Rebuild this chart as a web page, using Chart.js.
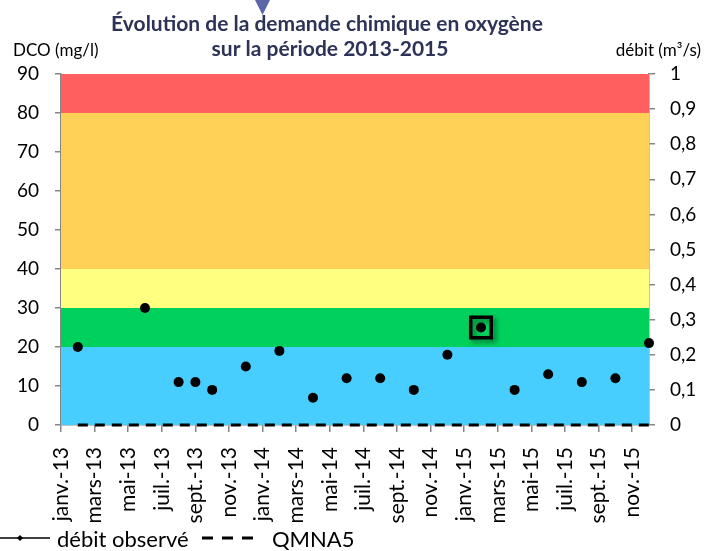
<!DOCTYPE html>
<html>
<head>
<meta charset="utf-8">
<script src="https://cdn.jsdelivr.net/npm/chart.js@4/dist/chart.umd.min.js"></script>
<style>
  html, body { margin: 0; padding: 0; background: #fff; }
  canvas { display: block; }
</style>
</head>
<body>
<canvas id="dcoChart" width="707" height="551"></canvas>
<script>
  // tick labels for the month axis (every second month, jan 2013 = 0)
  var tickLabels = ['janv.-13', 'mars-13', 'mai-13', 'juil.-13', 'sept.-13', 'nov.-13',
    'janv.-14', 'mars-14', 'mai-14', 'juil.-14', 'sept.-14', 'nov.-14',
    'janv.-15', 'mars-15', 'mai-15', 'juil.-15', 'sept.-15', 'nov.-15'];

  // sampling month (0 = janv. 2013) and DCO values in mg/l
  var sampleMonths = [1, 5, 7, 8, 9, 11, 13, 15, 17, 19, 21, 23, 25, 27, 29, 31, 33, 35];
  var dcoValues = [20, 30, 11, 11, 9, 15, 19, 7, 12, 12, 9, 18, 25, 9, 13, 11, 12, 21];

  // highlighted sample (index in the arrays above)
  var highlightIndex = 12;

  // débit : QMNA5 reference and observed flow (m3/s)
  var qmna5Value = 0;
  var debitObserve = [];

  // quality classes of DCO (mg/l)
  var classLimits = [0, 20, 30, 40, 80, 90];
  var classColors = ['#47CEFF', '#00D15D', '#FFFF80', '#FFD257', '#FF5F5F'];

  var FONT = 'Lato, "Open Sans", sans-serif';
  var TEXT = '#000000';
  var AXIS = '#868686';

  var dcoPoints = sampleMonths.map(function (m, i) { return { x: m, y: dcoValues[i] }; });
  var qmnaPoints = sampleMonths.map(function (m) { return { x: m, y: qmna5Value }; });

  var bandsPlugin = {
    id: 'bands',
    beforeDatasetsDraw: function (chart) {
      var ctx = chart.ctx, area = chart.chartArea, y = chart.scales.y;
      ctx.save();
      for (var i = 0; i < classColors.length; i++) {
        var top = y.getPixelForValue(classLimits[i + 1]);
        var bottom = y.getPixelForValue(classLimits[i]);
        ctx.fillStyle = classColors[i];
        ctx.fillRect(area.left, top, area.right - area.left, bottom - top);
      }
      ctx.restore();
    }
  };

  var shadowPlugin = {
    id: 'markShadow',
    beforeDatasetDraw: function (chart, args) {
      if (args.index !== 2) return;
      var ctx = chart.ctx;
      ctx.save();
      ctx.shadowColor = 'rgba(0,0,0,0.45)';
      ctx.shadowBlur = 5;
      ctx.shadowOffsetX = 3;
      ctx.shadowOffsetY = 3;
    },
    afterDatasetDraw: function (chart, args) {
      if (args.index !== 2) return;
      chart.ctx.restore();
    }
  };

  var textPlugin = {
    id: 'texts',
    afterDraw: function (chart) {
      var ctx = chart.ctx;
      ctx.save();

      // little marker above the title
      ctx.fillStyle = '#5A66A8';
      ctx.beginPath();
      ctx.moveTo(255, 0);
      ctx.lineTo(270, 0);
      ctx.lineTo(262.5, 15);
      ctx.closePath();
      ctx.fill();

      // title
      ctx.fillStyle = '#2D3357';
      ctx.font = 'bold 21px ' + FONT;
      ctx.textAlign = 'center';
      ctx.textBaseline = 'alphabetic';
      ctx.fillText('Évolution de la demande chimique en oxygène', 327, 31);
      ctx.fillText('sur la période 2013-2015', 330, 56);

      // axis titles
      ctx.fillStyle = TEXT;
      ctx.font = '17px ' + FONT;
      ctx.textAlign = 'left';
      ctx.fillText('DCO (mg/l)', 13, 56);
      ctx.textAlign = 'right';
      ctx.fillText('débit (m³/s)', 701, 56);

      // legend
      var ly = 538;
      ctx.strokeStyle = '#000';
      ctx.lineWidth = 1.5;
      ctx.setLineDash([]);
      ctx.beginPath();
      ctx.moveTo(0, ly);
      ctx.lineTo(50, ly);
      ctx.stroke();
      ctx.fillStyle = '#000';
      ctx.beginPath();
      ctx.moveTo(20, ly - 3);
      ctx.lineTo(23, ly);
      ctx.lineTo(20, ly + 3);
      ctx.lineTo(17, ly);
      ctx.closePath();
      ctx.fill();

      ctx.lineWidth = 3;
      ctx.setLineDash([11, 9]);
      ctx.beginPath();
      ctx.moveTo(202, ly);
      ctx.lineTo(254, ly);
      ctx.stroke();
      ctx.setLineDash([]);

      ctx.font = '22px ' + FONT;
      ctx.textAlign = 'left';
      ctx.textBaseline = 'middle';
      ctx.fillText('débit observé', 57, ly + 2);
      ctx.fillText('QMNA5', 272, ly + 2);
      ctx.restore();
    }
  };

  var dcoChart = new Chart(document.getElementById('dcoChart'), {
    type: 'scatter',
    data: {
      datasets: [
        {
          label: 'QMNA5',
          type: 'line',
          data: qmnaPoints,
          yAxisID: 'y1',
          borderColor: '#000',
          borderWidth: 3,
          borderDash: [10, 7],
          pointRadius: 0,
          fill: false,
          clip: false,
          order: 3
        },
        {
          label: 'débit observé',
          type: 'line',
          data: debitObserve,
          yAxisID: 'y1',
          borderColor: '#000',
          borderWidth: 1.5,
          pointStyle: 'rectRot',
          pointRadius: 2,
          fill: false,
          order: 2
        },
        {
          label: 'prélèvement signalé',
          data: [{ x: sampleMonths[highlightIndex], y: dcoValues[highlightIndex] }],
          yAxisID: 'y',
          pointStyle: 'rect',
          pointRadius: 14.5,
          pointBorderWidth: 3.5,
          pointBorderColor: '#000',
          pointBackgroundColor: 'rgba(0,0,0,0)',
          clip: false,
          order: 1
        },
        {
          label: 'DCO',
          data: dcoPoints,
          yAxisID: 'y',
          pointRadius: 5,
          pointBackgroundColor: '#000',
          pointBorderColor: '#000',
          pointBorderWidth: 0,
          clip: false,
          order: 0
        }
      ]
    },
    options: {
      responsive: false,
      animation: false,
      layout: { padding: { top: 74, left: 0, right: 0, bottom: 0 } },
      plugins: {
        legend: { display: false },
        title: { display: false },
        tooltip: { enabled: false }
      },
      scales: {
        x: {
          type: 'linear',
          min: 0,
          max: 35,
          afterFit: function (s) { s.height = 126; },
          border: { color: AXIS, width: 1.5 },
          grid: { drawOnChartArea: false, color: AXIS, tickLength: 7, lineWidth: 1.5 },
          ticks: {
            stepSize: 2,
            includeBounds: false,
            autoSkip: false,
            minRotation: 90,
            maxRotation: 90,
            padding: 15,
            color: TEXT,
            font: { family: FONT, size: 21 },
            callback: function (v) {
              var label = tickLabels[v / 2];
              return label === undefined ? null : label;
            }
          }
        },
        y: {
          position: 'left',
          min: 0,
          max: 90,
          afterFit: function (s) { s.width = 61; },
          border: { color: AXIS, width: 1.5 },
          grid: { drawOnChartArea: false, color: AXIS, tickLength: 6, lineWidth: 1.5 },
          ticks: {
            stepSize: 10,
            padding: 16,
            color: TEXT,
            font: { family: FONT, size: 19 }
          }
        },
        y1: {
          position: 'right',
          min: 0,
          max: 1,
          afterFit: function (s) { s.width = 58; },
          border: { color: AXIS, width: 1.5 },
          grid: { drawOnChartArea: false, color: AXIS, tickLength: 6, lineWidth: 1.5 },
          ticks: {
            stepSize: 0.1,
            padding: 15,
            color: TEXT,
            font: { family: FONT, size: 19 },
            callback: function (v) {
              return String(Math.round(v * 10) / 10).replace('.', ',');
            }
          }
        }
      }
    },
    plugins: [bandsPlugin, shadowPlugin, textPlugin]
  });
</script>
</body>
</html>
